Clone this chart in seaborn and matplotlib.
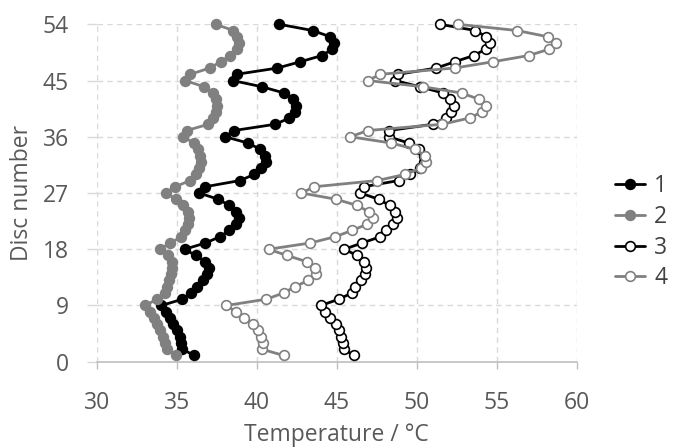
import matplotlib
matplotlib.use("Agg")
import matplotlib.pyplot as plt
import seaborn as sns
import numpy as np
import pandas as pd

discs = list(range(1, 55))

series1 = [36.1, 35.35, 35.3, 35.2, 35.0, 34.8, 34.6, 34.35, 34.05,
           35.35, 35.9, 36.3, 36.65, 36.9, 37.0, 36.8, 36.2, 35.5,
           36.8, 37.7, 38.3, 38.7, 38.9, 38.7, 38.3, 37.6, 36.4,
           36.78, 38.97, 39.86, 40.3, 40.57, 40.53, 40.22, 39.45, 38.03,
           38.59, 41.16, 42.05, 42.4, 42.47, 42.3, 41.72, 40.33, 38.49,
           38.76, 41.3, 42.72, 44.08, 44.7, 44.85, 44.6, 43.5, 41.41]

series2 = [34.96, 34.4, 34.28, 34.15, 33.95, 33.8, 33.6, 33.35, 33.05,
           33.75, 34.28, 34.42, 34.55, 34.63, 34.7, 34.7, 34.48, 33.95,
           34.6, 35.3, 35.55, 35.7, 35.8, 35.7, 35.4, 34.93, 34.36,
           34.9, 35.84, 36.18, 36.4, 36.5, 36.46, 36.36, 36.1, 35.37,
           35.63, 36.98, 37.3, 37.45, 37.51, 37.47, 37.26, 36.71, 35.53,
           35.86, 37.06, 37.75, 38.34, 38.8, 38.88, 38.78, 38.55, 37.43]

series3 = [46.1, 45.43, 45.4, 45.27, 45.12, 44.98, 44.6, 44.29, 44.02,
           45.12, 45.96, 46.16, 46.52, 46.79, 46.85, 46.73, 46.27, 45.48,
           46.58, 47.73, 48.08, 48.54, 48.77, 48.65, 48.32, 47.62, 46.48,
           46.68, 48.88, 49.6, 50.2, 50.45, 50.44, 50.13, 49.5, 48.25,
           48.3, 51.0, 51.8, 52.15, 52.3, 52.1, 51.65, 50.2, 48.65,
           48.85, 51.23, 52.38, 53.57, 54.3, 54.57, 54.35, 53.67, 51.45]

series4 = [41.68, 40.33, 40.39, 40.26, 40.07, 39.74, 39.2, 38.7, 38.1,
           40.6, 41.68, 42.4, 43.2, 43.72, 43.66, 43.14, 41.9, 40.74,
           43.35, 44.9, 45.95, 46.9, 47.3, 47.0, 46.3, 44.95, 42.8,
           43.6, 47.55, 49.3, 50.3, 50.6, 50.5, 49.9, 48.4, 45.85,
           46.95, 51.6, 53.3, 54.1, 54.3, 53.9, 52.8, 50.4, 46.95,
           47.73, 52.38, 54.76, 57.0, 58.26, 58.68, 58.2, 56.28, 52.57]

labels = ["1", "2", "3", "4"]
x_ticks = [30, 35, 40, 45, 50, 55, 60]
y_ticks = [0, 9, 18, 27, 36, 45, 54]

sns.set_theme(style="white")
plt.rcParams['font.family'] = ['Open Sans', 'DejaVu Sans']

fig = plt.figure(figsize=(6.78, 4.48), dpi=100)
ax = fig.add_axes([0.1426, 0.1926, 0.708, 0.7532])

styles = [
    dict(color="black", mfc="black", mec="black"),
    dict(color="#808080", mfc="#808080", mec="#808080"),
    dict(color="black", mfc="white", mec="black"),
    dict(color="#808080", mfc="white", mec="#808080"),
]

for lab, vals, st in zip(labels, [series1, series2, series3, series4], styles):
    df = pd.DataFrame({"temp": vals, "disc": discs})
    sns.lineplot(data=df, x="temp", y="disc", sort=False, estimator=None,
                 ax=ax, color=st["color"], linewidth=2.0, marker="o",
                 markersize=7.0, markerfacecolor=st["mfc"],
                 markeredgecolor=st["mec"], markeredgewidth=1.2, label=lab,
                 zorder=3, clip_on=False)

FS = 16.5
ax.set_xlim(30, 60)
ax.set_ylim(0, 54)
ax.set_xticks(x_ticks)
ax.set_yticks(y_ticks)
ax.grid(True, color="#d9d9d9", linestyle=(0, (4, 3)), linewidth=1.0)
for s in ["top", "right", "left"]:
    ax.spines[s].set_visible(False)
ax.spines["bottom"].set_color("#bfbfbf")
ax.spines["bottom"].set_linewidth(1.2)
ax.tick_params(axis="x", labelsize=FS, colors="#595959", length=5, width=1.0,
               color="#bfbfbf", direction="out", pad=16, bottom=True)
ax.tick_params(axis="y", labelsize=FS, colors="#595959", length=7, width=1.0,
               color="#d9d9d9", direction="out", pad=13, left=True)
ax.set_xlabel("Temperature / °C", fontsize=FS, color="#595959", labelpad=6)
ax.set_ylabel("Disc number", fontsize=FS, color="#595959", labelpad=6)

leg = ax.legend(loc="center left", bbox_to_anchor=(1.08, 0.384), frameon=False,
                fontsize=FS, handlelength=1.3, labelspacing=0.3,
                handletextpad=0.4, borderpad=0, borderaxespad=0,
                labelcolor="#404040")

fig.savefig("out.png", dpi=100)
